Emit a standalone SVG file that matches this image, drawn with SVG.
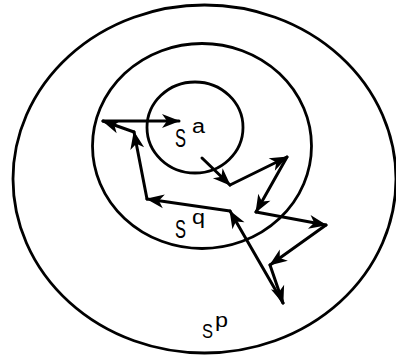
<svg xmlns="http://www.w3.org/2000/svg" width="396" height="356" viewBox="0 0 396 356">
<style>
.ring{fill:none;stroke:#000;stroke-width:2.8}
.walk line{stroke:#000;stroke-width:3;stroke-linecap:round;marker-end:url(#head)}
.lbl{font-family:"Liberation Sans","DejaVu Sans",sans-serif;fill:#000}
</style>
<defs>
<marker id="head" markerUnits="userSpaceOnUse" markerWidth="24" markerHeight="20" viewBox="-21 -10 23 20" refX="0" refY="0" orient="auto">
<path d="M1,0 L-17,-7 L-12,0 L-17,7 Z" fill="#000"/>
</marker>
</defs>
<g id="Sp">
<ellipse class="ring" cx="204.5" cy="179" rx="191.5" ry="174"/>
<text class="lbl" x="202" y="338" font-size="21" textLength="11" lengthAdjust="spacingAndGlyphs">S</text>
<text class="lbl" x="215" y="327" font-size="20" textLength="13" lengthAdjust="spacingAndGlyphs">p</text>
</g>
<g id="Sq">
<ellipse class="ring" cx="202" cy="146" rx="109.5" ry="102.5"/>
<text class="lbl" x="175" y="238" font-size="26" textLength="11" lengthAdjust="spacingAndGlyphs">S</text>
<text class="lbl" x="192" y="224" font-size="20" textLength="13" lengthAdjust="spacingAndGlyphs">q</text>
</g>
<g id="Sa">
<ellipse class="ring" cx="195" cy="127.5" rx="48" ry="45.5"/>
<text class="lbl" x="175" y="147" font-size="26" textLength="11" lengthAdjust="spacingAndGlyphs">S</text>
<text class="lbl" x="192" y="133" font-size="20" textLength="13" lengthAdjust="spacingAndGlyphs">a</text>
</g>
<g id="connectors" class="walk">
<line x1="202" y1="158" x2="230" y2="185"/>
<line x1="230" y1="185" x2="287" y2="157"/>
<line x1="287" y1="157" x2="256" y2="212"/>
<line x1="256" y1="212" x2="326" y2="225"/>
<line x1="326" y1="225" x2="270" y2="265"/>
<line x1="270" y1="265" x2="283" y2="303"/>
<line x1="283" y1="303" x2="230" y2="211"/>
<line x1="230" y1="211" x2="147" y2="199"/>
<line x1="147" y1="199" x2="134" y2="132"/>
<line x1="134" y1="132" x2="103" y2="121"/>
<line x1="103" y1="121" x2="179" y2="121"/>
</g>
</svg>
